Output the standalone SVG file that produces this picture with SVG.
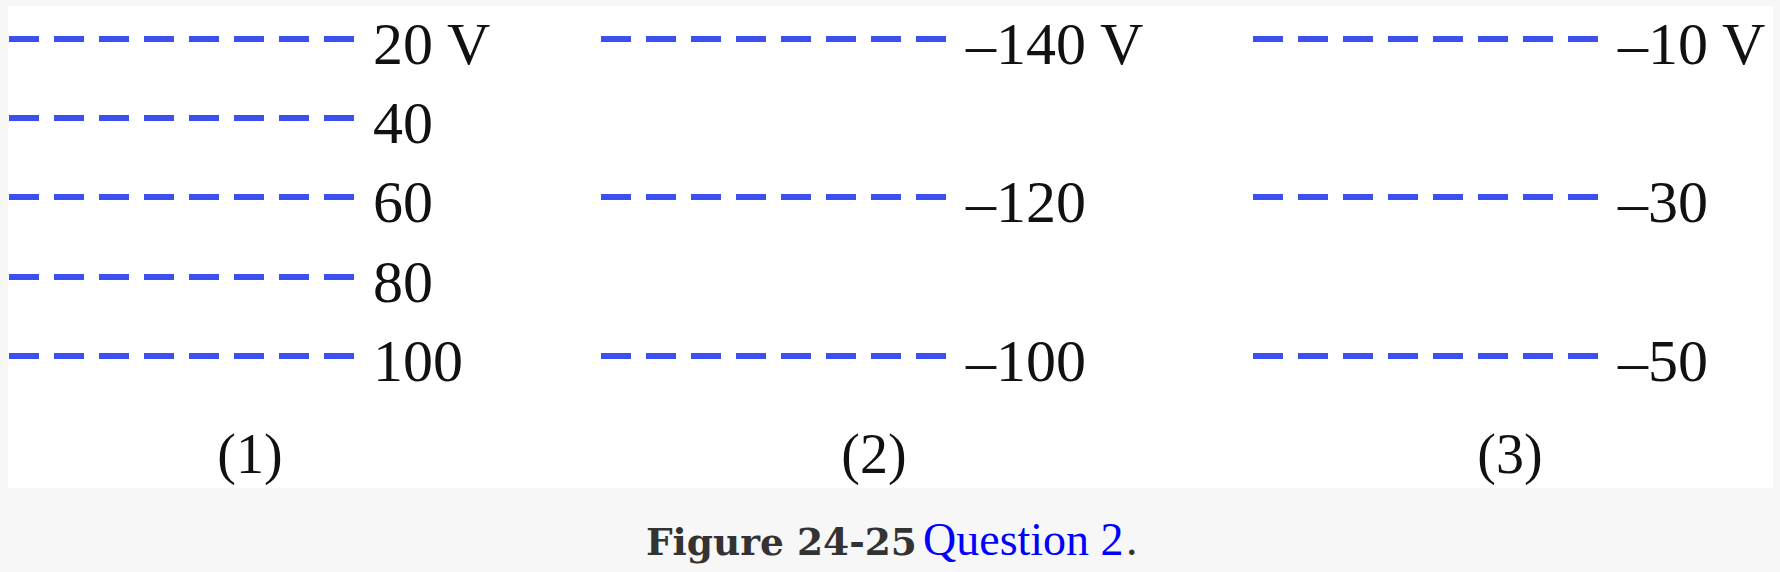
<svg xmlns="http://www.w3.org/2000/svg" width="1780" height="572" viewBox="0 0 1780 572">
<style>
.eq{stroke:#3c50f0;stroke-width:6;stroke-dasharray:30 15;fill:none}
.v{font-family:"Liberation Serif","Times New Roman",serif;font-size:60px;fill:#111}
.lbl{font-family:"Liberation Serif","Times New Roman",serif;font-size:56px;fill:#111;text-anchor:middle}
.cap{font-family:"DejaVu Serif",Georgia,serif;font-weight:bold;font-size:37.5px;fill:#333}
.q{font-family:"Liberation Serif","Times New Roman",serif;font-size:46px;fill:#0000ff}
.dot{font-family:"Liberation Serif","Times New Roman",serif;font-size:46px;fill:#333}
</style>
<rect x="0" y="0" width="1780" height="572" fill="#f7f7f7"/>
<rect x="8" y="6" width="1765" height="482" fill="#ffffff"/>
<g id="connectors">
<line class="eq" x1="9" y1="39" x2="354" y2="39"/>
<line class="eq" x1="9" y1="118" x2="354" y2="118"/>
<line class="eq" x1="9" y1="197" x2="354" y2="197"/>
<line class="eq" x1="9" y1="277" x2="354" y2="277"/>
<line class="eq" x1="9" y1="356" x2="354" y2="356"/>
<line class="eq" x1="601" y1="39" x2="946" y2="39"/>
<line class="eq" x1="601" y1="197" x2="946" y2="197"/>
<line class="eq" x1="601" y1="356" x2="946" y2="356"/>
<line class="eq" x1="1253" y1="39" x2="1598" y2="39"/>
<line class="eq" x1="1253" y1="197" x2="1598" y2="197"/>
<line class="eq" x1="1253" y1="356" x2="1598" y2="356"/>
</g>
<g id="panel1">
<text class="v" x="373" y="64">20 V</text>
<text class="v" x="373" y="143">40</text>
<text class="v" x="373" y="222">60</text>
<text class="v" x="373" y="302">80</text>
<text class="v" x="373" y="381">100</text>
<text class="lbl" x="250" y="473">(1)</text>
</g>
<g id="panel2">
<text class="v" x="966" y="64">–140 V</text>
<text class="v" x="966" y="222">–120</text>
<text class="v" x="966" y="381">–100</text>
<text class="lbl" x="874" y="473">(2)</text>
</g>
<g id="panel3">
<text class="v" x="1618" y="64">–10 V</text>
<text class="v" x="1618" y="222">–30</text>
<text class="v" x="1618" y="381">–50</text>
<text class="lbl" x="1510" y="473">(3)</text>
</g>
<g id="caption">
<text class="cap" x="646" y="555">Figure 24-25</text>
<text class="q" x="923" y="555">Question 2</text>
<text class="dot" x="1126" y="555">.</text>
</g>
</svg>
